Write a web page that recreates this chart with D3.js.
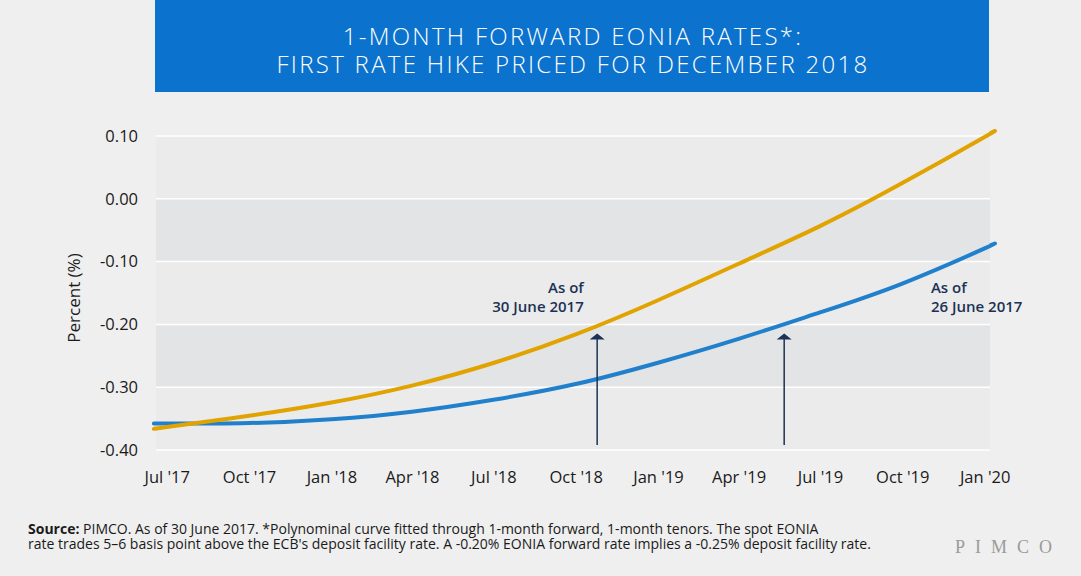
<!DOCTYPE html>
<html>
<head>
<meta charset="utf-8">
<script src="https://cdn.jsdelivr.net/npm/d3@7"></script>
<style>
  body { margin: 0; background: #efefef; }
  svg { display: block; font-family: "Open Sans", "Noto Sans", sans-serif; }
</style>
</head>
<body>
<svg id="chart" width="1081" height="576"></svg>
<script>
// chart data
const dates = ["2017-06-19", "2017-07-01", "2017-10-01", "2018-01-01", "2018-04-01", "2018-07-01",
  "2018-10-01", "2019-01-01", "2019-04-01", "2019-07-01", "2019-10-01", "2020-01-01", "2020-01-07"];
const asOf30June = [-0.366, -0.3635, -0.3455, -0.3245, -0.2975, -0.2615, -0.216, -0.1615, -0.1035, -0.0435, 0.025, 0.0985, 0.104];
const asOf26June = [-0.358, -0.358, -0.357, -0.351, -0.339, -0.320, -0.295, -0.261, -0.223, -0.181, -0.135, -0.079, -0.0744];
const xTicks = ["2017-07-01", "2017-10-01", "2018-01-01", "2018-04-01", "2018-07-01", "2018-10-01",
  "2019-01-01", "2019-04-01", "2019-07-01", "2019-10-01", "2020-01-01"];
const yTicks = [0.10, 0.00, -0.10, -0.20, -0.30, -0.40];
const titleLines = ["1-MONTH FORWARD EONIA RATES*:", "FIRST RATE HIKE PRICED FOR DECEMBER 2018"];
const annotations = [
  { lines: ["As of", "30 June 2017"], at: "2018-10-10", anchor: "end", arrow: "2018-10-25" },
  { lines: ["As of", "26 June 2017"], at: "2019-11-02", anchor: "start", arrow: "2019-05-22" }
];
const footnote = [
  "PIMCO. As of 30 June 2017. *Polynominal curve fitted through 1-month  forward, 1-month tenors. The spot EONIA",
  "rate trades 5\u20136 basis point above the ECB's deposit facility rate. A -0.20% EONIA forward rate implies a -0.25% deposit facility rate."
];

const parse = d3.timeParse("%Y-%m-%d");
const plot = { left: 156, right: 990, top: 136, bottom: 450 };

const svg = d3.select("#chart");

// title banner
svg.append("rect")
  .attr("x", 155).attr("y", 0).attr("width", 834).attr("height", 92)
  .attr("fill", "#0b72ce");
svg.append("g").selectAll("text")
  .data(titleLines)
  .join("text")
  .attr("x", 573).attr("y", (d, i) => 44.5 + i * 28)
  .attr("text-anchor", "middle")
  .attr("fill", "#fff")
  .attr("font-size", 24)
  .attr("font-weight", 300)
  .attr("letter-spacing", 2.3)
  .text(d => d);

const x = d3.scaleTime()
  .domain([parse(dates[0]), parse(dates[dates.length - 1])])
  .range([plot.left, plot.right]);
const y = d3.scaleLinear().domain([-0.40, 0.10]).range([plot.bottom, plot.top]);

// alternating bands
const bandTops = yTicks.slice(0, -1);
svg.append("g").selectAll("rect")
  .data(bandTops)
  .join("rect")
  .attr("x", plot.left).attr("width", plot.right - plot.left)
  .attr("y", d => y(d))
  .attr("height", d => y(d - 0.1) - y(d))
  .attr("fill", (d, i) => i % 2 ? "#e3e4e6" : "#ebebec");

// gridlines
svg.append("g").selectAll("line")
  .data(yTicks)
  .join("line")
  .attr("x1", plot.left).attr("x2", plot.right)
  .attr("y1", d => y(d)).attr("y2", d => y(d))
  .attr("stroke", "#fff").attr("stroke-width", 1.5);

// axes
const yAxis = svg.append("g")
  .attr("transform", `translate(${plot.left},0)`)
  .call(d3.axisLeft(y).tickValues(yTicks).tickFormat(d => d.toFixed(2)).tickSize(0).tickPadding(18));
const xAxis = svg.append("g")
  .attr("transform", `translate(0,${plot.bottom})`)
  .call(d3.axisBottom(x).tickValues(xTicks.map(parse)).tickFormat(d3.timeFormat("%b '%y")).tickSize(0).tickPadding(21));
[yAxis, xAxis].forEach(a => {
  a.select(".domain").remove();
  a.selectAll("text")
    .attr("font-family", "'Open Sans', 'Noto Sans', sans-serif")
    .attr("font-size", 16.5)
    .attr("fill", "#1a1a1a");
});

svg.append("text")
  .attr("transform", "translate(80,298) rotate(-90)")
  .attr("text-anchor", "middle")
  .attr("font-size", 17)
  .attr("fill", "#1a1a1a")
  .text("Percent (%)");

// curves
const line = d3.line()
  .x((d, i) => x(parse(dates[i])))
  .y(d => y(d))
  .curve(d3.curveNatural);

svg.append("path")
  .attr("d", line(asOf26June))
  .attr("fill", "none").attr("stroke", "#2080cc").attr("stroke-width", 4);
svg.append("path")
  .attr("d", line(asOf30June))
  .attr("fill", "none").attr("stroke", "#e1a300").attr("stroke-width", 4);

// arrows + labels
const navy = "#1c3254";
annotations.forEach(a => {
  const ax = x(parse(a.arrow));
  const tip = y(-0.2145);
  svg.append("line")
    .attr("x1", ax).attr("x2", ax)
    .attr("y1", y(-0.392)).attr("y2", tip + 4)
    .attr("stroke", navy).attr("stroke-width", 1.5);
  svg.append("path")
    .attr("d", `M${ax},${tip} L${ax + 7.5},${tip + 6} L${ax - 7.5},${tip + 6} Z`)
    .attr("fill", navy);
  svg.append("g").selectAll("text")
    .data(a.lines)
    .join("text")
    .attr("x", x(parse(a.at)))
    .attr("y", (d, i) => 293 + i * 19)
    .attr("text-anchor", a.anchor)
    .attr("font-size", 15)
    .attr("font-weight", 600)
    .attr("fill", navy)
    .text(d => d);
});

// footnote
const foot = svg.append("text")
  .attr("font-size", 14)
  .attr("fill", "#1a1a1a");
const f1 = foot.append("tspan").attr("x", 28).attr("y", 534);
f1.append("tspan").attr("font-weight", 700).text("Source: ");
f1.append("tspan").text(footnote[0]);
foot.append("tspan").attr("x", 28).attr("y", 549).text(footnote[1]);

// logo
svg.append("text")
  .attr("x", 955).attr("y", 553)
  .attr("font-family", "'Liberation Serif', 'DejaVu Serif', serif")
  .attr("font-size", 18)
  .attr("letter-spacing", 10)
  .attr("fill", "#9a9a9a")
  .text("PIMCO");
</script>
</body>
</html>
